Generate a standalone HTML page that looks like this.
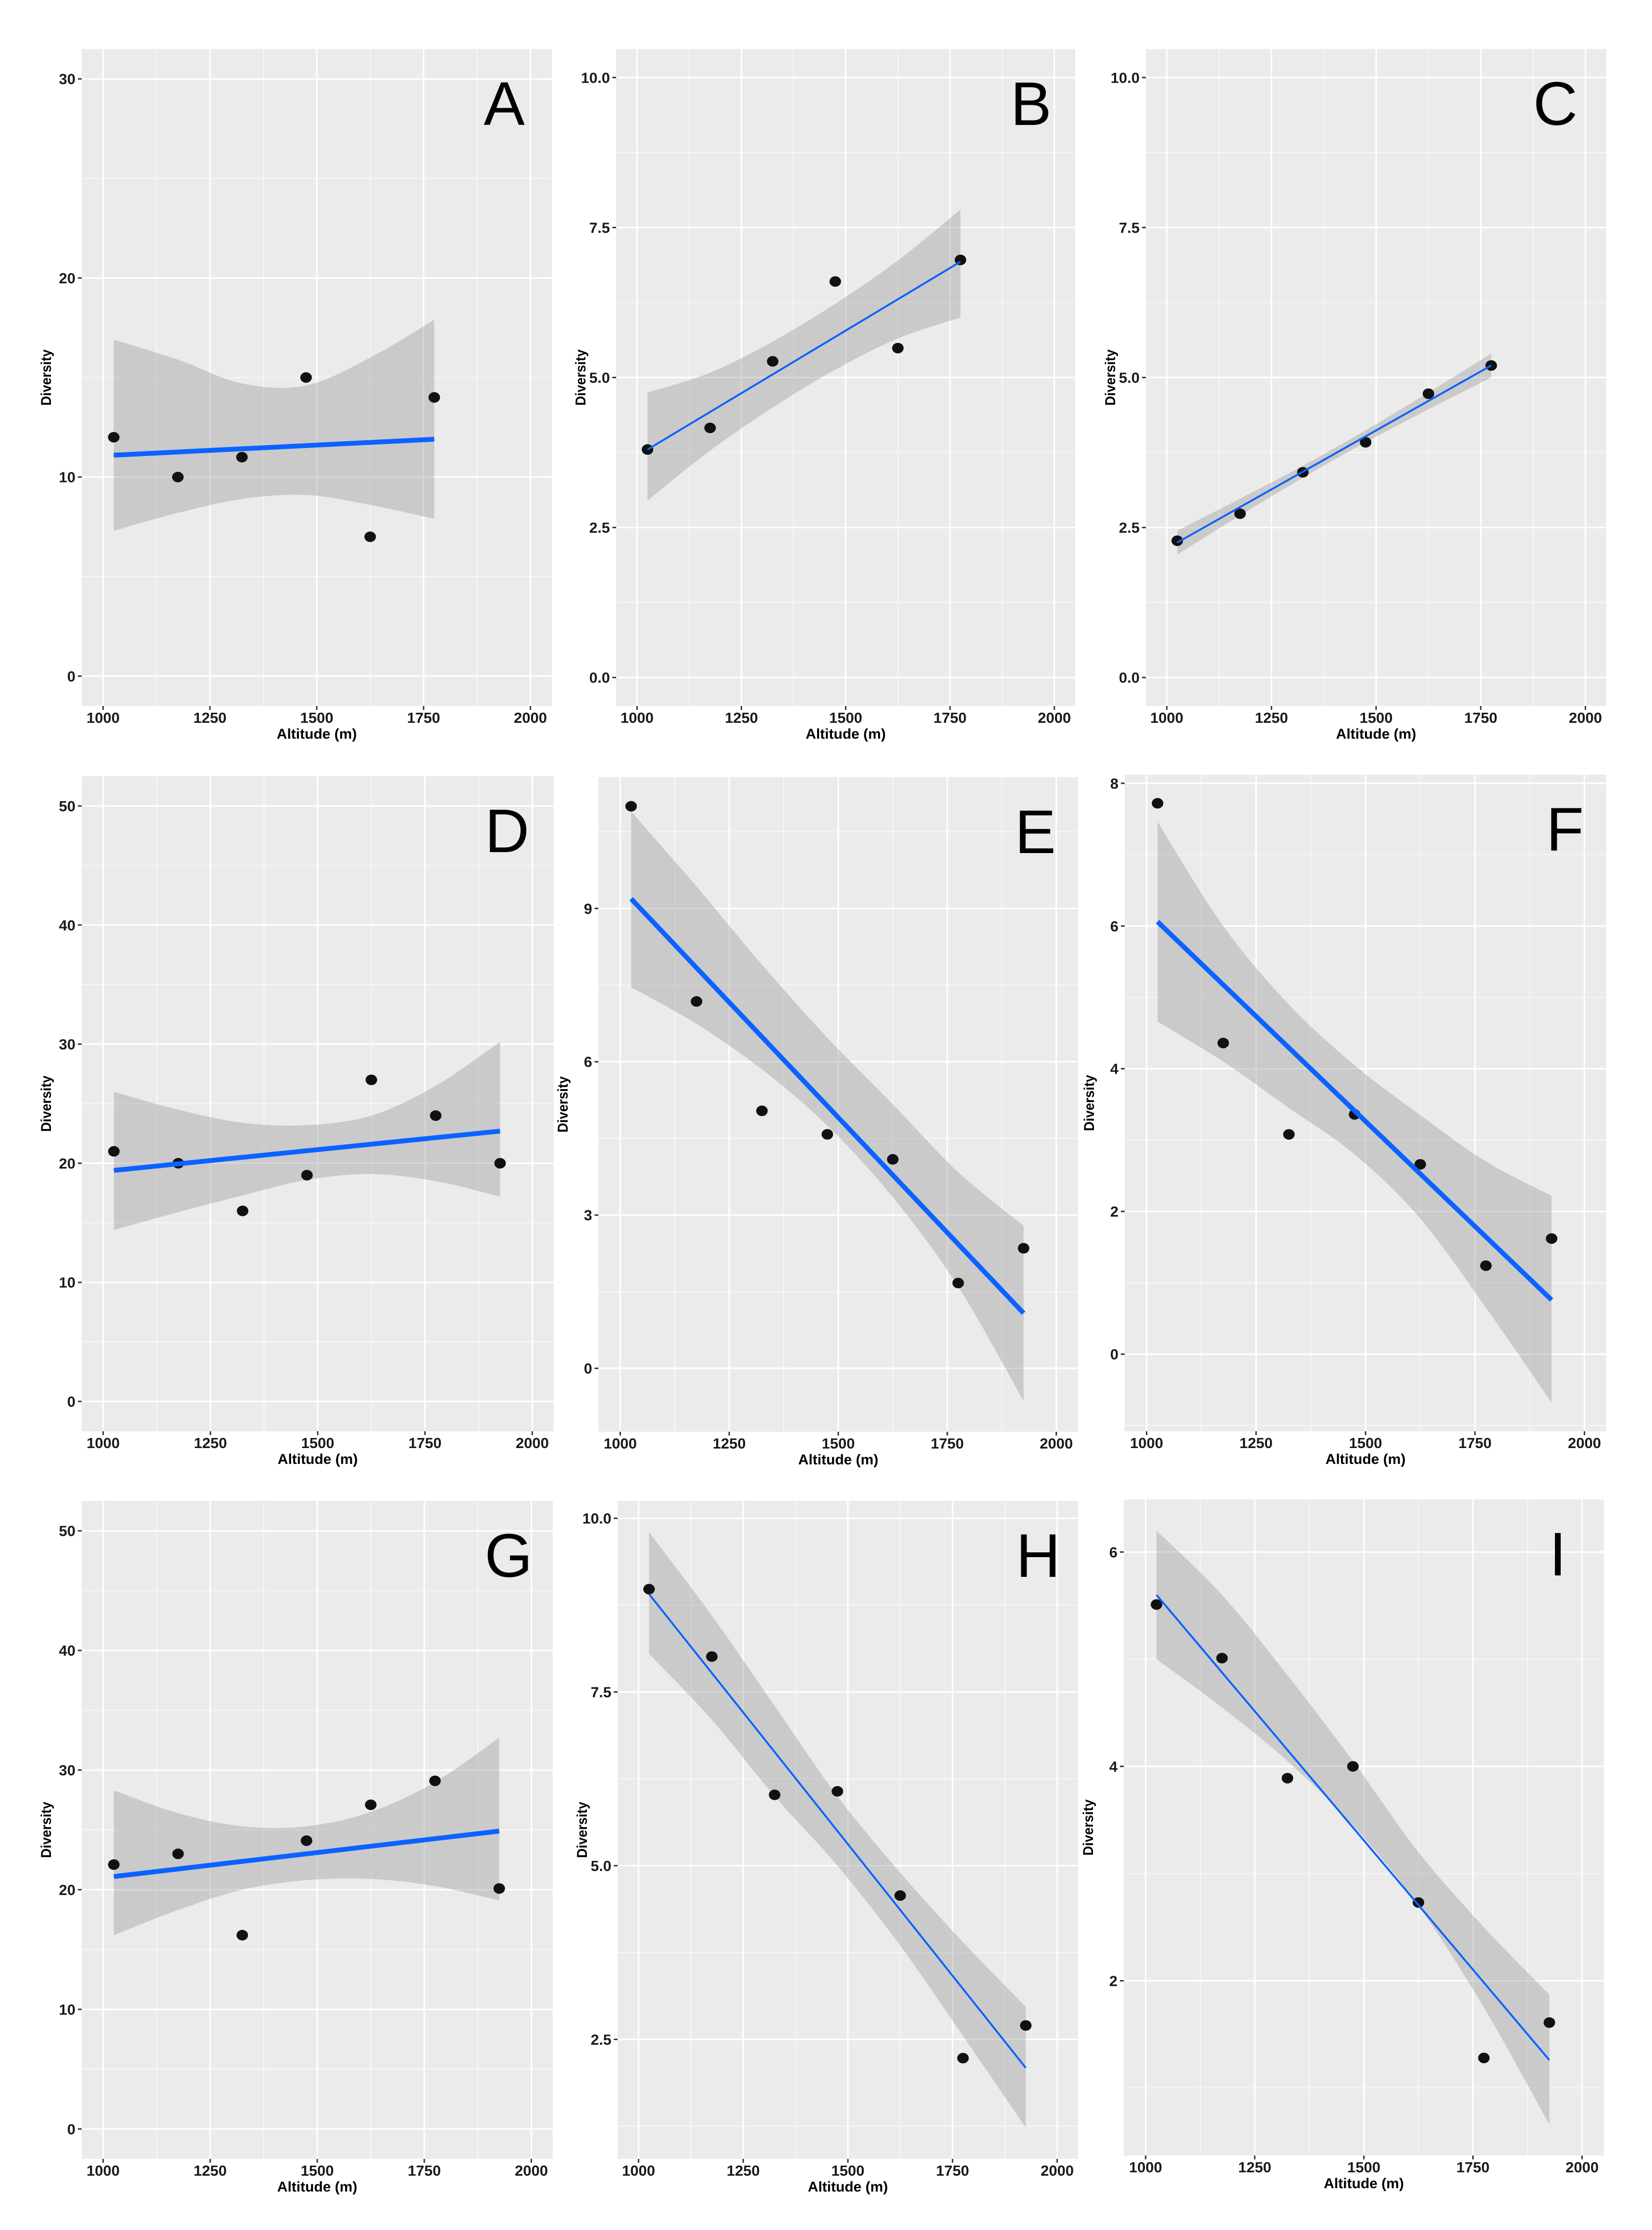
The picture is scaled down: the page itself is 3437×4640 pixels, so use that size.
<!DOCTYPE html>
<html><head><meta charset="utf-8"><title>Diversity vs Altitude</title>
<style>html,body{margin:0;padding:0;background:#fff}svg{display:block}</style></head>
<body>
<svg id="fig" xmlns="http://www.w3.org/2000/svg" width="3437" height="4640" viewBox="0 0 3437 4640" font-family="'Liberation Sans', sans-serif">
<rect x="0" y="0" width="3437" height="4640" fill="#ffffff"/>
</svg>
<script>
// ---- data ----
const altitudes = [1025, 1175, 1325, 1475, 1625, 1775, 1925];
const xTicks = [1000, 1250, 1500, 1750, 2000];
const xMinor = [1125, 1375, 1625, 1875];

const aDiversity = [12, 10, 11, 15, 7, 14];
const aFit = [11.1, 11.9];
const aBandHi = [16.9, 15.9, 14.7, 14.6, 16.0, 17.9];
const aBandLo = [7.3, 8.2, 8.9, 9.1, 8.6, 7.9];
const aTicks = [0, 10, 20, 30];
const aTickLabels = ["0", "10", "20", "30"];

const bDiversity = [3.8, 4.16, 5.27, 6.6, 5.49, 6.96];
const bFit = [3.8, 6.93];
const bBandHi = [4.75, 5.08, 5.6, 6.23, 6.95, 7.8];
const bBandLo = [2.95, 3.78, 4.5, 5.13, 5.65, 6.0];
const bTicks = [0, 2.5, 5, 7.5, 10];
const bTickLabels = ["0.0", "2.5", "5.0", "7.5", "10.0"];

const cDiversity = [2.28, 2.73, 3.42, 3.92, 4.73, 5.2];
const cFit = [2.25, 5.2];
const cBandHi = [2.45, 2.98, 3.53, 4.12, 4.75, 5.4];
const cBandLo = [2.05, 2.7, 3.33, 3.92, 4.47, 5.0];
const cTicks = [0, 2.5, 5, 7.5, 10];
const cTickLabels = ["0.0", "2.5", "5.0", "7.5", "10.0"];

const dDiversity = [21, 20, 16, 19, 27, 24, 20];
const dFit = [19.4, 22.7];
const dBandHi = [26, 24.5, 23.4, 23.2, 24, 26.5, 30.2];
const dBandLo = [14.4, 15.9, 17.3, 18.6, 19.1, 18.5, 17.2];
const dTicks = [0, 10, 20, 30, 40, 50];
const dTickLabels = ["0", "10", "20", "30", "40", "50"];

const eDiversity = [11.0, 7.18, 5.04, 4.58, 4.09, 1.67, 2.35];
const eFit = [9.19, 1.08];
const eBandHi = [10.9, 9.43, 7.9, 6.47, 5.17, 3.84, 2.79];
const eBandLo = [7.46, 6.74, 5.85, 4.75, 3.35, 1.6, -0.64];
const eTicks = [0, 3, 6, 9];
const eTickLabels = ["0", "3", "6", "9"];

const fDiversity = [7.72, 4.36, 3.08, 3.36, 2.66, 1.24, 1.62];
const fFit = [6.06, 0.76];
const fBandHi = [7.46, 6.0, 4.9, 4.05, 3.35, 2.7, 2.22];
const fBandLo = [4.66, 4.1, 3.45, 2.8, 1.9, 0.65, -0.68];
const fTicks = [0, 2, 4, 6, 8];
const fTickLabels = ["0", "2", "4", "6", "8"];

const gDiversity = [22.1, 23.0, 16.2, 24.1, 27.1, 29.1, 20.1];
const gFit = [21.1, 24.9];
const gBandHi = [28.3, 26.4, 25.3, 25.3, 26.5, 29, 32.7];
const gBandLo = [16.2, 18.3, 20, 20.8, 20.9, 20.3, 19.1];
const gTicks = [0, 10, 20, 30, 40, 50];
const gTickLabels = ["0", "10", "20", "30", "40", "50"];

const hDiversity = [8.98, 8.01, 6.02, 6.07, 4.57, 2.23, 2.7];
const hFit = [8.91, 2.09];
const hBandHi = [9.8, 8.6, 7.3, 6.0, 4.9, 3.9, 2.97];
const hBandLo = [8.05, 7.1, 6.0, 5.0, 3.85, 2.55, 1.23];
const hTicks = [2.5, 5, 7.5, 10];
const hTickLabels = ["2.5", "5.0", "7.5", "10.0"];

const iDiversity = [5.51, 5.01, 3.89, 4.0, 2.73, 1.28, 1.61];
const iFit = [5.6, 1.26];
const iBandHi = [6.2, 5.6, 4.85, 4.05, 3.2, 2.5, 1.87];
const iBandLo = [5.0, 4.55, 4.05, 3.45, 2.7, 1.75, 0.66];
const iTicks = [2, 4, 6];
const iTickLabels = ["2", "4", "6"];

// ---- layout (pixel geometry, not data) ----
const XDOM = [950, 2050];
const panels = [
  {id:'A', L:170, T:102, R:1148, B:1469, ydom:[-1.5,31.5], y:aDiversity, fit:aFit, hi:aBandHi, lo:aBandLo, ticks:aTicks, labels:aTickLabels, lw:10, lx:1049},
  {id:'B', L:1282, T:102, R:2237, B:1469, ydom:[-0.475,10.475], y:bDiversity, fit:bFit, hi:bBandHi, lo:bBandLo, ticks:bTicks, labels:bTickLabels, lw:4, lx:2145},
  {id:'C', L:2384, T:102, R:3342, B:1469, ydom:[-0.475,10.475], y:cDiversity, fit:cFit, hi:cBandHi, lo:cBandLo, ticks:cTicks, labels:cTickLabels, lw:4, lx:3236},
  {id:'D', L:170, T:1615, R:1152, B:2978, ydom:[-2.5,52.5], y:dDiversity, fit:dFit, hi:dBandHi, lo:dBandLo, ticks:dTicks, labels:dTickLabels, lw:10, lx:1055},
  {id:'E', L:1245, T:1617, R:2243, B:2979, ydom:[-1.24,11.57], y:eDiversity, fit:eFit, hi:eBandHi, lo:eBandLo, ticks:eTicks, labels:eTickLabels, lw:10, lx:2154},
  {id:'F', L:2340, T:1612, R:3342, B:2978, ydom:[-1.08,8.12], y:fDiversity, fit:fFit, hi:fBandHi, lo:fBandLo, ticks:fTicks, labels:fTickLabels, lw:10, lx:3256},
  {id:'G', L:170, T:3123, R:1150, B:4492, ydom:[-2.5,52.5], y:gDiversity, fit:gFit, hi:gBandHi, lo:gBandLo, ticks:gTicks, labels:gTickLabels, lw:10, lx:1058},
  {id:'H', L:1285, T:3123, R:2243, B:4492, ydom:[0.78,10.25], y:hDiversity, fit:hFit, hi:hBandHi, lo:hBandLo, ticks:hTicks, labels:hTickLabels, lw:4, lx:2160},
  {id:'I', L:2338, T:3120, R:3337, B:4485, ydom:[0.37,6.49], y:iDiversity, fit:iFit, hi:iBandHi, lo:iBandLo, ticks:iTicks, labels:iTickLabels, lw:4, lx:3241}
];

const NS = 'http://www.w3.org/2000/svg';
const svg = document.getElementById('fig');
function mk(tag, attrs, parent){
  const e = document.createElementNS(NS, tag);
  for (const k in attrs) e.setAttribute(k, attrs[k]);
  (parent || svg).appendChild(e);
  return e;
}
function smoothPath(pts){
  let d = 'M' + pts[0][0] + ',' + pts[0][1];
  for (let i = 0; i < pts.length - 1; i++){
    const p0 = pts[Math.max(0,i-1)], p1 = pts[i], p2 = pts[i+1], p3 = pts[Math.min(pts.length-1,i+2)];
    const c1 = [p1[0] + (p2[0]-p0[0])/6, p1[1] + (p2[1]-p0[1])/6];
    const c2 = [p2[0] - (p3[0]-p1[0])/6, p2[1] - (p3[1]-p1[1])/6];
    d += ' C' + c1[0] + ',' + c1[1] + ' ' + c2[0] + ',' + c2[1] + ' ' + p2[0] + ',' + p2[1];
  }
  return d;
}

panels.forEach(p => {
  const g = mk('g', {});
  
  
  const xs = v => p.L + (v - XDOM[0]) / (XDOM[1] - XDOM[0]) * (p.R - p.L);
  const ys = v => p.B - (v - p.ydom[0]) / (p.ydom[1] - p.ydom[0]) * (p.B - p.T);

  const bg = mk('rect', {x:p.L, y:p.T, width:p.R-p.L, height:p.B-p.T, fill:'#ebebeb'}, g);
  
  

  const step = p.ticks[1] - p.ticks[0];
  const yMinor = [];
  for (let v = p.ticks[0] - step/2; v <= p.ticks[p.ticks.length-1] + step/2 + 1e-9; v += step){
    if (v > p.ydom[0] && v < p.ydom[1]) yMinor.push(v);
  }
  yMinor.forEach(v => {
    const l = mk('line', {x1:p.L, x2:p.R, y1:ys(v), y2:ys(v), stroke:'#fafafa', 'stroke-width':1.6}, g);
    
    
  });
  xMinor.forEach(v => {
    const l = mk('line', {x1:xs(v), x2:xs(v), y1:p.T, y2:p.B, stroke:'#fafafa', 'stroke-width':1.6}, g);
    
    
  });
  p.ticks.forEach((v, i) => {
    const l = mk('line', {x1:p.L, x2:p.R, y1:ys(v), y2:ys(v), stroke:'#ffffff', 'stroke-width':3.2}, g);
    
    
    const tk = mk('line', {x1:p.L-8, x2:p.L, y1:ys(v), y2:ys(v), stroke:'#333', 'stroke-width':3}, g);
    
    
    const t = mk('text', {x:p.L-13, y:ys(v)+11, 'text-anchor':'end', 'font-size':31, 'font-weight':'bold', fill:'#1a1a1a'}, g);
    t.textContent = p.labels[i];
    
    
  });
  xTicks.forEach(v => {
    const l = mk('line', {x1:xs(v), x2:xs(v), y1:p.T, y2:p.B, stroke:'#ffffff', 'stroke-width':3.2}, g);
    
    
    const tk = mk('line', {x1:xs(v), x2:xs(v), y1:p.B, y2:p.B+8, stroke:'#333', 'stroke-width':3}, g);
    
    
    const t = mk('text', {x:xs(v), y:p.B+35, 'text-anchor':'middle', 'font-size':31, 'font-weight':'bold', fill:'#1a1a1a'}, g);
    t.textContent = String(v);
    
    
  });

  const n = p.y.length;
  const hiPts = p.hi.map((v, i) => [xs(altitudes[i]), ys(v)]);
  const loPts = p.lo.map((v, i) => [xs(altitudes[i]), ys(v)]).reverse();
  let d = smoothPath(hiPts);
  d += ' L' + loPts[0][0] + ',' + loPts[0][1] + smoothPath(loPts).replace(/^M[^ C]+/, '') + ' Z';
  const band = mk('path', {d:d, fill:'#999999', 'fill-opacity':0.4}, g);
  
  

  p.y.forEach((v, i) => {
    const c = mk('ellipse', {cx:xs(altitudes[i]), cy:ys(v), rx:12, ry:11, fill:'#111'}, g);
    
    
  });

  const fl = mk('line', {x1:xs(altitudes[0]), y1:ys(p.fit[0]), x2:xs(altitudes[n-1]), y2:ys(p.fit[1]), stroke:'#0b62ff', 'stroke-width':p.lw}, g);
  
  

  const lt = mk('text', {x:p.lx, y:p.T+158, 'text-anchor':'middle', 'font-size':128, fill:'#000'}, g);
  lt.textContent = p.id;
  
  

  const xt = mk('text', {x:(p.L+p.R)/2, y:p.B+68, 'text-anchor':'middle', 'font-size':30, 'font-weight':'bold', fill:'#000'}, g);
  xt.textContent = 'Altitude (m)';
  
  
  const cy = (p.T + p.B) / 2;
  const yt = mk('text', {x:0, y:0, 'text-anchor':'middle', 'font-size':30, 'font-weight':'bold', fill:'#000', textLength:117, lengthAdjust:'spacingAndGlyphs', transform:'translate(' + (p.L-64) + ',' + cy + ') rotate(-90)'}, g);
  yt.textContent = 'Diversity';
  
  
});
</script>
</body></html>
